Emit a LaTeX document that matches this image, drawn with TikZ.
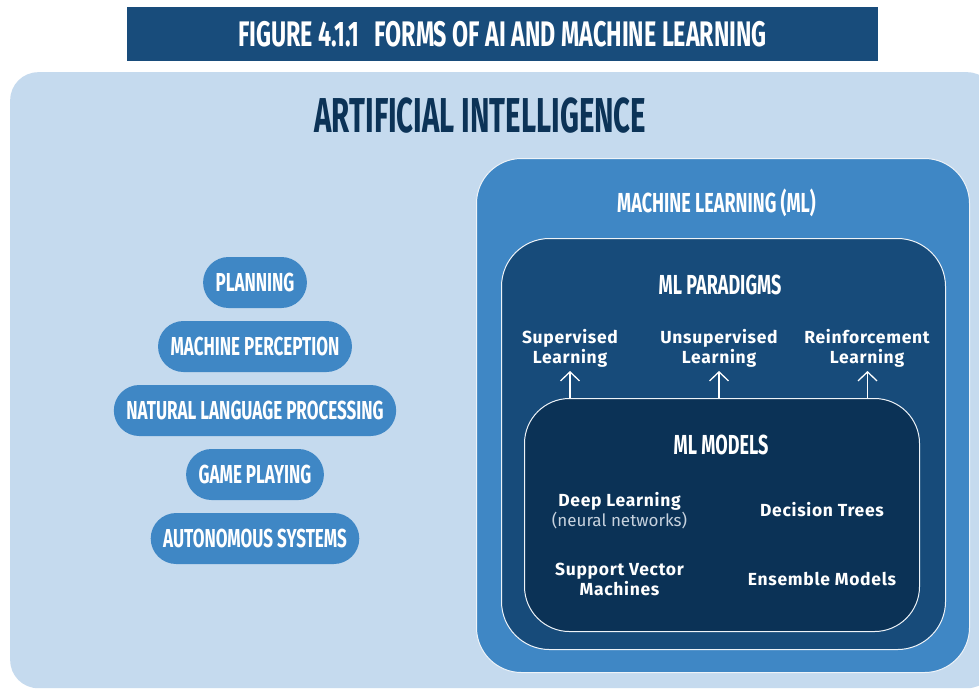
\documentclass[tikz,border=0pt]{standalone}
\usepackage{fontspec}
\setmainfont{Fira Sans}
\newfontfamily\condfont[FakeStretch=0.655]{Fira Sans}
\newfontfamily\condwide[FakeStretch=0.60]{Fira Sans}
\newfontfamily\bodyfont[LetterSpace=4]{Fira Sans}
\usetikzlibrary{arrows.meta}
\definecolor{bannerc}{HTML}{184C7B}
\definecolor{aibg}{HTML}{C5DAEE}
\definecolor{midc}{HTML}{3F87C5}
\definecolor{parac}{HTML}{174B7A}
\definecolor{modc}{HTML}{0B3256}
\definecolor{aititle}{HTML}{0C3357}
\definecolor{edgec}{HTML}{EEF3F8}
\definecolor{softc}{HTML}{C7D2DE}
\newcommand{\softtext}[1]{{\normalfont\fontsize{17}{20}\selectfont\color{softc}#1}}
\tikzset{
  cond/.style={font=\condfont\bfseries\fontsize{#1}{#1}\selectfont},
  pill/.style={fill=midc, rounded corners=25.5pt, minimum height=51pt, inner xsep=12.5pt,
    inner ysep=0pt, text=white, cond=26, text height=18pt, text depth=0pt},
  layer/.style={draw=edgec, line width=1pt, anchor=north west, inner sep=0pt},
  heading/.style={text=white, anchor=base, inner sep=0pt, cond=27.5},
  item/.style={text=white, align=center, inner sep=0pt,
    font=\bodyfont\bfseries\fontsize{17.5}{20}\selectfont},
  uparrow/.style={draw=white, line width=1.3pt, -{Straight Barb[length=9pt,width=19pt,line width=1.3pt]}}
}
\begin{document}
\begin{tikzpicture}[x=1pt,y=-1pt]
\useasboundingbox (0,0) rectangle (979,689);
\clip (0,0) rectangle (979,689);
\fill[white] (0,0) rectangle (979,689);
% banner
\node[fill=bannerc, minimum width=751pt, minimum height=54pt, inner sep=0pt,
  text=white, cond=35.5, text height=24pt, text depth=0pt] (banner) at (502.5,34)
  {FIGURE 4.1.1\hspace{15pt}FORMS OF AI AND MACHINE LEARNING};
% AI area
\node[fill=aibg, rounded corners=28pt, minimum width=985pt, minimum height=616pt,
  anchor=north west, inner sep=0pt] (ai) at (10,72) {};
\node[text=aititle, anchor=base, inner sep=0pt,
  font=\condwide\bfseries\fontsize{49}{49}\selectfont] (aititle) at (480.5,132)
  {ARTIFICIAL INTELLIGENCE};
% pills
\node[pill] (plan) at (255,282.5) {PLANNING};
\node[pill] (perc) at (255,346.5) {MACHINE PERCEPTION};
\node[pill] (nlp)  at (255,410.5) {NATURAL LANGUAGE PROCESSING};
\node[pill] (game) at (255,474.5) {GAME PLAYING};
\node[pill] (auto) at (255,538.5) {AUTONOMOUS SYSTEMS};
% nested boxes
\node[layer, fill=midc, minimum width=493pt, minimum height=514pt, rounded corners=45pt] (ml) at (476,158) {};
\node[heading] (mltitle) at (716.5,212) {MACHINE LEARNING (ML)};
\node[layer, fill=parac, minimum width=444pt, minimum height=411pt, rounded corners=48pt] (para) at (501,238) {};
\node[heading] (paratitle) at (720,294) {ML PARADIGMS};
\node[layer, fill=modc, minimum width=395pt, minimum height=233pt, rounded corners=45pt] (models) at (524,398) {};
\node[heading] (modtitle) at (721,454) {ML MODELS};
% paradigms
\node[item] (sup) at (570,348) {Supervised\\Learning};
\node[item] (uns) at (719,348) {Unsupervised\\Learning};
\node[item] (rei) at (867,348) {Reinforcement\\Learning};
\coordinate (supT) at (570,371);
\coordinate (unsT) at (719,371);
\coordinate (reiT) at (867.5,371);
\draw[uparrow] (supT |- models.north) -- (supT);
\draw[uparrow] (unsT |- models.north) -- (unsT);
\draw[uparrow] (reiT |- models.north) -- (reiT);
% models
\node[item] (deep) at (619.5,511) {Deep Learning\\\softtext{(neural networks)}};
\node[item] (tree) at (822,510) {Decision Trees};
\node[item] (svm) at (619.5,579) {Support Vector\\Machines};
\node[item] (ens) at (822,579) {Ensemble Models};
\end{tikzpicture}
\end{document}
